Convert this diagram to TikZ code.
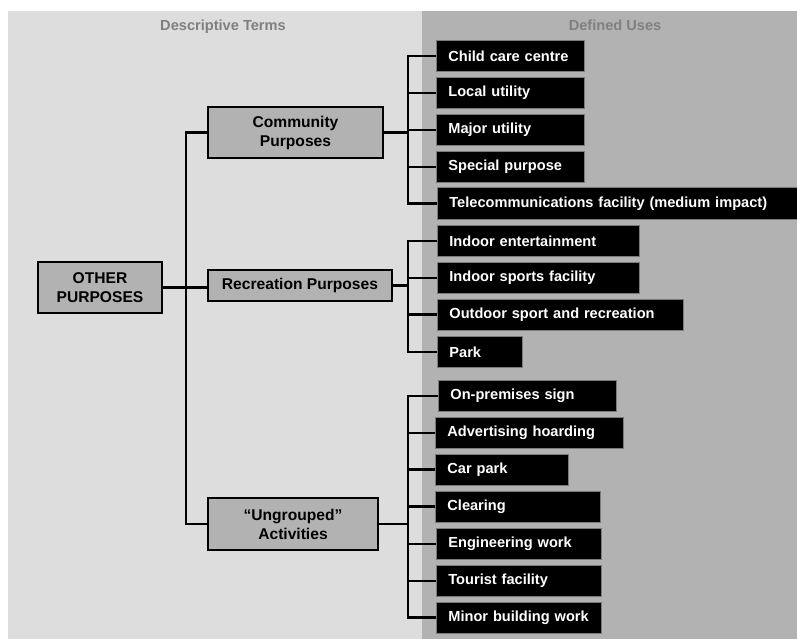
\documentclass[tikz,border=0pt]{standalone}
\usepackage{fontspec}
\setmainfont{Liberation Sans}
\definecolor{panelL}{HTML}{DDDDDD}
\definecolor{panelR}{HTML}{B2B2B2}
\definecolor{termfill}{HTML}{B2B2B2}
\definecolor{headtxt}{HTML}{808080}
\definecolor{useedge}{HTML}{7A7A7A}
\tikzset{
  hdr/.style={text=headtxt, font=\bfseries\fontsize{14.6}{17}\selectfont, inner sep=0pt, anchor=base},
  term/.style={draw=black, line width=2.2pt, fill=termfill, align=center,
    font=\bfseries\fontsize{15.6}{19}\selectfont, inner sep=0pt},
  usebox/.style={draw=useedge, line width=0.8pt, fill=black, text=white, anchor=north west,
    align=left, inner xsep=12pt, inner ysep=0pt, minimum height=31pt,
    font=\bfseries\fontsize{14.6}{17}\selectfont},
  link/.style={draw=black, line width=2.7pt, line join=miter}
}
\begin{document}
\begin{tikzpicture}[x=1pt,y=-1pt]
\useasboundingbox (0,0) rectangle (797,639);
% two column panels
\fill[panelL] (8,11) rectangle (422,639);
\fill[panelR] (422,11) rectangle (797,639);
\node[hdr] (hl) at (223,31) {Descriptive Terms};
\node[hdr] (hr) at (615,31) {Defined Uses};

% descriptive terms
\node[term, minimum width=124pt, minimum height=51pt] (op) at (100,287.5) {OTHER\\PURPOSES};
\node[term, minimum width=175pt, minimum height=51pt] (cp) at (295.5,132.5) {Community\\Purposes};
\node[term, minimum width=184pt, minimum height=31pt] (rp) at (300,285.5) {Recreation Purposes};
\node[term, minimum width=170pt, minimum height=52pt] (ug) at (293,524) {\char"201C Ungrouped\char"201D\\Activities};

% defined uses
\node[usebox, text width=124pt] (c1) at (436,40) {Child care centre};
\node[usebox, text width=124pt] (c2) at (436,77) {Local utility};
\node[usebox, text width=124pt] (c3) at (436,114) {Major utility};
\node[usebox, text width=124pt] (c4) at (436,151) {Special purpose};
\node[usebox, text width=340pt] (c5) at (437,187.5) {Telecommunications facility (medium impact)};

\node[usebox, text width=178pt] (r1) at (437,225) {Indoor entertainment};
\node[usebox, text width=178pt] (r2) at (437,262) {Indoor sports facility};
\node[usebox, text width=222pt] (r3) at (437,298.5) {Outdoor sport and recreation};
\node[usebox, text width=61pt] (r4) at (437,336) {Park};

\node[usebox, text width=154pt] (g1) at (438,380) {On-premises sign};
\node[usebox, text width=164pt] (g2) at (435,417) {Advertising hoarding};
\node[usebox, text width=109pt] (g3) at (435,453.5) {Car park};
\node[usebox, text width=141pt] (g4) at (435,490.5) {Clearing};
\node[usebox, text width=141pt] (g5) at (436,528) {Engineering work};
\node[usebox, text width=141pt] (g6) at (436,565) {Tourist facility};
\node[usebox, text width=141pt] (g7) at (436,601.5) {Minor building work};

% spine positions
\coordinate (trunk) at (186,0);
\coordinate (spine) at (408,0);

% trunk from OTHER PURPOSES to the three groups
\draw[link] (op.east) -- (op.east -| rp.west);
\draw[link] (cp.west) -- (cp.west -| trunk) -- (ug.west -| trunk) -- (ug.west);

% community purposes
\draw[link] (cp.east) -- (cp.east -| spine);
\draw[link] (c1.west) -- (c1.west -| spine) -- (c5.west -| spine) -- (c5.west);
\foreach \n in {c2,c3,c4} \draw[link] (\n.west -| spine) -- (\n.west);

% recreation purposes
\draw[link] (rp.east) -- (rp.east -| spine);
\draw[link] (r1.west) -- (r1.west -| spine) -- (r4.west -| spine) -- (r4.west);
\foreach \n in {r2,r3} \draw[link] (\n.west -| spine) -- (\n.west);

% ungrouped activities
\draw[link] (ug.east) -- (ug.east -| spine);
\draw[link] (g1.west) -- (g1.west -| spine) -- (g7.west -| spine) -- (g7.west);
\foreach \n in {g2,g3,g4,g5,g6} \draw[link] (\n.west -| spine) -- (\n.west);
\end{tikzpicture}
\end{document}
